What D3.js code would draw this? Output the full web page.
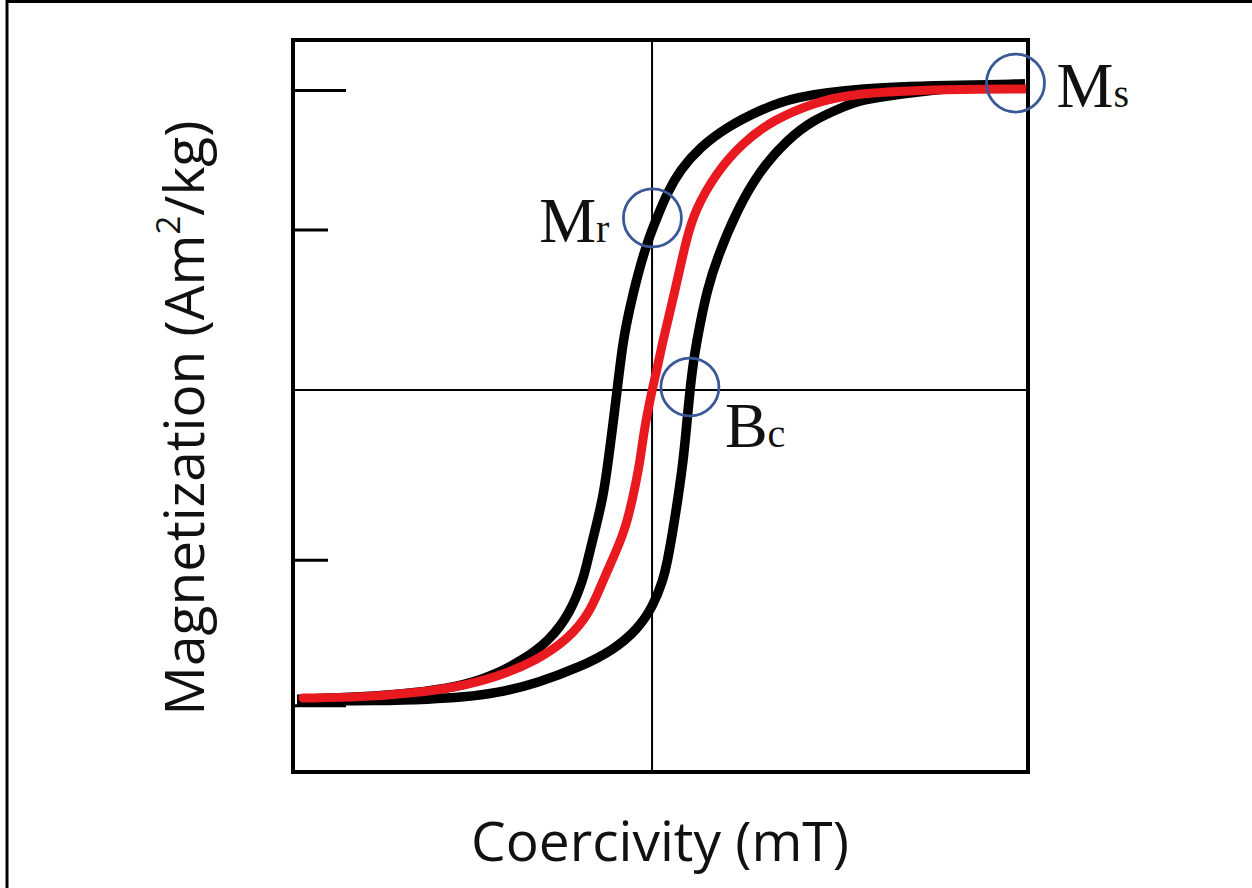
<!DOCTYPE html>
<html>
<head>
<meta charset="utf-8">
<script src="https://cdn.jsdelivr.net/npm/d3@7"></script>
<style>
  html, body { margin: 0; padding: 0; background: #fff; }
  svg { display: block; }
</style>
</head>
<body>
<svg id="chart" width="1252" height="888"></svg>
<script>
// ---- Data (field H in arbitrary mT units, magnetization M normalised to Ms) ----
const descendingH = [10.15, 8.11, 5.66, 3.84, 2.94, 2.04, 1.31, 0.76, 0.41, 0.14, -0.11, -0.38, -0.60, -0.79, -0.95, -1.06, -1.20, -1.33, -1.55, -1.77, -1.88, -2.23, -2.78, -3.51, -4.41, -5.31, -6.50, -7.86, -9.66];
const descendingM = [1.010, 1.005, 0.997, 0.967, 0.924, 0.868, 0.802, 0.726, 0.650, 0.571, 0.495, 0.386, 0.274, 0.165, 0.000, -0.109, -0.241, -0.353, -0.462, -0.571, -0.627, -0.736, -0.825, -0.891, -0.947, -0.980, -1.000, -1.013, -1.020];

const ascendingH = [-9.66, -7.40, -6.04, -5.14, -4.22, -3.13, -1.96, -1.06, -0.41, 0.03, 0.30, 0.41, 0.57, 0.71, 0.84, 0.93, 1.03, 1.14, 1.31, 1.50, 1.77, 2.31, 2.94, 3.67, 4.38, 5.20, 5.66, 6.75, 8.11, 10.15];
const ascendingM = [-1.025, -1.025, -1.020, -1.013, -1.000, -0.967, -0.914, -0.858, -0.792, -0.713, -0.627, -0.571, -0.462, -0.353, -0.241, -0.132, 0.000, 0.109, 0.221, 0.330, 0.436, 0.594, 0.726, 0.825, 0.891, 0.934, 0.957, 0.977, 0.997, 1.010];

const initialH = [-9.50, -7.86, -6.50, -5.31, -4.22, -3.13, -2.31, -1.69, -1.33, -1.12, -0.73, -0.52, -0.33, -0.22, 0.00, 0.11, 0.30, 0.52, 0.73, 0.93, 1.17, 1.74, 2.45, 3.29, 4.38, 5.47, 8.11, 10.15];
const initialM = [-1.016, -1.013, -1.000, -0.980, -0.947, -0.891, -0.825, -0.736, -0.627, -0.571, -0.462, -0.353, -0.241, -0.132, 0.000, 0.056, 0.165, 0.274, 0.386, 0.495, 0.594, 0.716, 0.815, 0.891, 0.947, 0.980, 0.993, 0.993];

const majorTicks = [0.99, -1.04];
const minorTicks = [0.53, -0.56];

const markerLabels = ["M", "M", "B"];
const markerSubs = ["s", "r", "c"];
const markerH = [9.89, 0.01, 1.03];
const markerM = [1.013, 0.568, 0.01];

const xTitle = "Coercivity (mT)";
const yTitleMain = "Magnetization (Am";
const yTitleSup = "2";
const yTitleEnd = "/kg)";

// ---- Layout ----
const svg = d3.select("#chart");
const pLeft = 293, pRight = 1028, pTop = 40, pBottom = 772;

const x = d3.scaleLinear().domain([-9.77, 10.23]).range([pLeft, pRight]);
const y = d3.scaleLinear().domain([-1.26, 1.155]).range([pBottom, pTop]);

// outer frame (left & top edges visible)
svg.append("rect")
  .attr("x", 7).attr("y", 1.5)
  .attr("width", 1300).attr("height", 1000)
  .attr("fill", "none").attr("stroke", "#000").attr("stroke-width", 3);

// zero lines
svg.append("line")
  .attr("x1", x(0)).attr("x2", x(0)).attr("y1", pTop).attr("y2", pBottom)
  .attr("stroke", "#000").attr("stroke-width", 2);
svg.append("line")
  .attr("x1", pLeft).attr("x2", pRight).attr("y1", y(0)).attr("y2", y(0))
  .attr("stroke", "#000").attr("stroke-width", 2);

// y axis ticks
const axMajor = svg.append("g").attr("transform", `translate(${pLeft},0)`)
  .call(d3.axisRight(y).tickValues(majorTicks).tickSize(53).tickFormat(""));
const axMinor = svg.append("g").attr("transform", `translate(${pLeft},0)`)
  .call(d3.axisRight(y).tickValues(minorTicks).tickSize(35).tickFormat(""));
[axMajor, axMinor].forEach(g => {
  g.select(".domain").remove();
  g.selectAll("line").attr("stroke", "#000").attr("stroke-width", 3);
});

// curves
const line = d3.line()
  .x(d => x(d[0])).y(d => y(d[1]))
  .curve(d3.curveBasis);

const desc = descendingH.map((h, i) => [h, descendingM[i]]);
const asc = ascendingH.map((h, i) => [h, ascendingM[i]]);
const init = initialH.map((h, i) => [h, initialM[i]]);

svg.append("path").attr("d", line(desc))
  .attr("fill", "none").attr("stroke", "#000").attr("stroke-width", 9.5);
svg.append("path").attr("d", line(asc))
  .attr("fill", "none").attr("stroke", "#000").attr("stroke-width", 9.5);
svg.append("path").attr("d", line(init))
  .attr("fill", "none").attr("stroke", "#e8191f").attr("stroke-width", 9)
  .attr("stroke-linecap", "round");

// frame
svg.append("rect")
  .attr("x", pLeft).attr("y", pTop)
  .attr("width", pRight - pLeft).attr("height", pBottom - pTop)
  .attr("fill", "none").attr("stroke", "#000").attr("stroke-width", 4);

// marker circles
markerH.forEach((h, i) => {
  svg.append("circle")
    .attr("cx", x(h)).attr("cy", y(markerM[i])).attr("r", 29)
    .attr("fill", "none").attr("stroke", "#3b5896").attr("stroke-width", 2.8);
});

// marker labels
const labelPos = [
  {dx: 41, dy: 24, anchor: "start"},
  {dx: -43, dy: 24, anchor: "end"},
  {dx: 35, dy: 60, anchor: "start"}
];
markerH.forEach((h, i) => {
  const t = svg.append("text")
    .attr("x", x(h) + labelPos[i].dx)
    .attr("y", y(markerM[i]) + labelPos[i].dy)
    .attr("text-anchor", labelPos[i].anchor)
    .attr("font-family", "'Liberation Serif', 'Times New Roman', serif")
    .attr("fill", "#111");
  t.append("tspan").attr("font-size", 64).text(markerLabels[i]);
  t.append("tspan").attr("font-size", 40).text(markerSubs[i]);
});

// axis titles
svg.append("text")
  .attr("x", 660).attr("y", 861)
  .attr("text-anchor", "middle")
  .attr("font-family", "'Open Sans', 'Noto Sans', sans-serif")
  .attr("font-size", 55).attr("fill", "#111")
  .text(xTitle);

const yt = svg.append("text")
  .attr("transform", `translate(204, 418) rotate(-90)`)
  .attr("text-anchor", "middle")
  .attr("font-family", "'Open Sans', 'Noto Sans', sans-serif")
  .attr("font-size", 55).attr("fill", "#111");
yt.append("tspan").text(yTitleMain);
yt.append("tspan").attr("font-size", 33).attr("dy", -24).text(yTitleSup);
yt.append("tspan").attr("dy", 24).text(yTitleEnd);
</script>
</body>
</html>
